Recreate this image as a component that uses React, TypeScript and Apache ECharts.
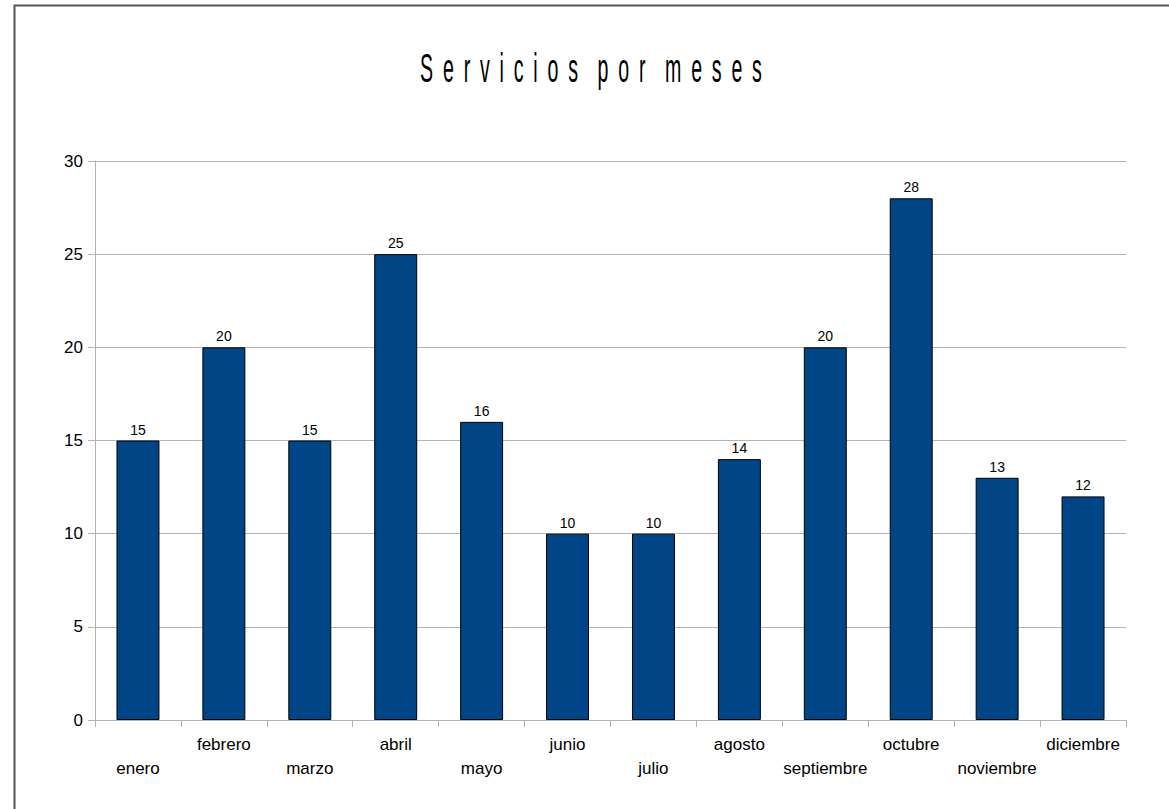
import React, { useEffect, useRef } from "react";
import * as echarts from "echarts";

const categories = ["enero", "febrero", "marzo", "abril", "mayo", "junio", "julio", "agosto", "septiembre", "octubre", "noviembre", "diciembre"];
const values = [15, 20, 15, 25, 16, 10, 10, 14, 20, 28, 13, 12];
const titleWords = ["Servicios", "por", "meses"];

const SP = "\u2002";
const titleText = titleWords.map((w) => w.split("").join(SP)).join(SP + SP);

export default function App() {
  const ref = useRef<HTMLDivElement>(null);
  useEffect(() => {
    document.body.style.margin = "0";
    const chart = echarts.init(ref.current!, null, { renderer: "svg" });
    chart.setOption({
      animation: false,
      backgroundColor: "#ffffff",
      graphic: [
        {
          type: "rect",
          shape: { x: 14.5, y: 5.5, width: 1170, height: 820 },
          style: { fill: "none", stroke: "#555555", lineWidth: 2 },
          silent: true,
        },
        {
          type: "text",
          x: 591,
          y: 48,
          scaleX: 0.49,
          style: {
            text: titleText,
            font: "40px 'Liberation Sans', Arial, sans-serif",
            fill: "#000000",
            textAlign: "center",
            textVerticalAlign: "top",
          },
        },
      ],
      grid: { left: 95, right: 43, top: 161, bottom: 89, containLabel: false },
      xAxis: {
        type: "category",
        data: categories,
        axisLine: { lineStyle: { color: "#b3b3b3", width: 1 } },
        axisTick: { show: true, length: 7, lineStyle: { color: "#b3b3b3" }, alignWithLabel: false },
        axisLabel: {
          interval: 0,
          margin: 12,
          color: "#000000",
          fontSize: 17,
          lineHeight: 24,
          fontFamily: "'Liberation Sans', Arial, sans-serif",
          verticalAlign: "top",
          formatter: (v: string, i: number) => (i % 2 === 0 ? "\n" + v : v),
        },
      },
      yAxis: {
        type: "value",
        min: 0,
        max: 30,
        interval: 5,
        axisLine: { show: true, lineStyle: { color: "#b3b3b3", width: 1 } },
        axisTick: { show: true, length: 7, lineStyle: { color: "#b3b3b3" } },
        splitLine: { show: true, lineStyle: { color: "#b3b3b3", width: 1 } },
        axisLabel: {
          margin: 12,
          color: "#000000",
          fontSize: 17,
          fontFamily: "'Liberation Sans', Arial, sans-serif",
        },
      },
      series: [
        {
          type: "bar",
          data: values,
          barWidth: "50%",
          itemStyle: { color: "#004586", borderColor: "#000000", borderWidth: 1 },
          label: {
            show: true,
            position: "top",
            distance: 4,
            color: "#000000",
            fontSize: 14,
            fontFamily: "'Liberation Sans', Arial, sans-serif",
          },
        },
      ],
    });
    return () => chart.dispose();
  }, []);
  return <div ref={ref} style={{ width: 1169, height: 809 }} />;
}
